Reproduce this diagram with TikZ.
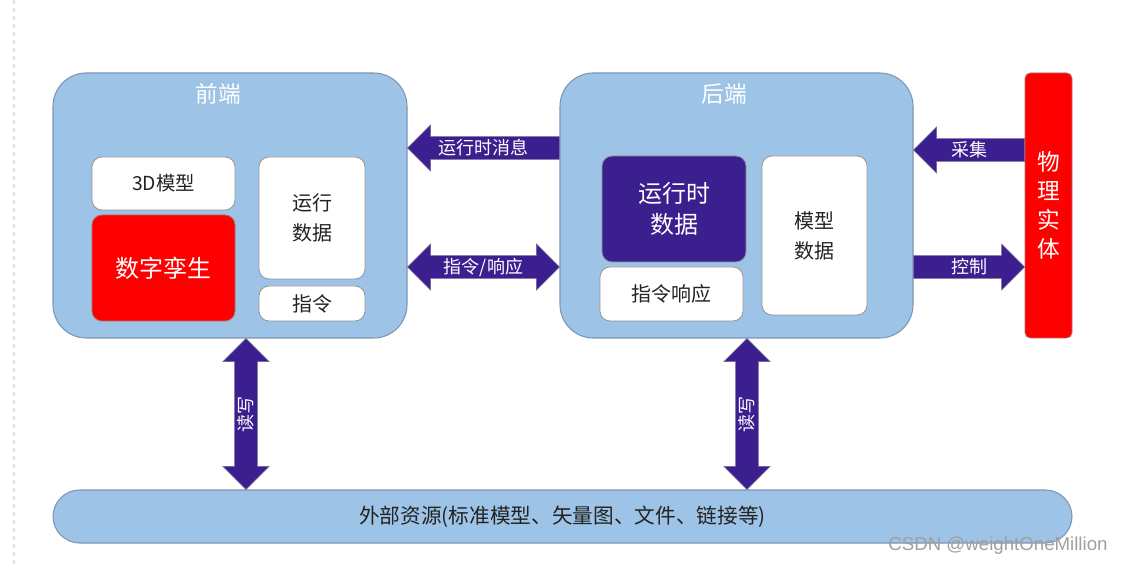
\documentclass[tikz,border=0pt]{standalone}
\usepackage{fontspec}
\setmainfont{Noto Sans CJK SC}
\newfontfamily\wmfont{Liberation Sans}
\usetikzlibrary{calc}
\definecolor{bluebox}{RGB}{157,195,230}
\definecolor{blueedge}{RGB}{125,150,180}
\definecolor{purp}{RGB}{59,31,143}
\definecolor{greyedge}{RGB}{150,150,150}
\definecolor{txt}{RGB}{35,35,35}
\tikzset{
  bigbox/.style={draw=blueedge, fill=bluebox, rounded corners=25pt, line width=0.8pt},
  whitebox/.style={draw=greyedge, fill=white, rounded corners=7.5pt, line width=0.6pt, text=txt, align=center},
  redbox/.style={draw=greyedge!70!red, fill=red, rounded corners=7.5pt, line width=0.6pt, text=white, align=center},
  purpbox/.style={draw=greyedge, fill=purp, rounded corners=7.5pt, line width=0.6pt, text=white, align=center},
  physbox/.style={draw=greyedge!70!red, fill=red, rounded corners=4pt, line width=0.6pt, text=white, align=center},
  bottombox/.style={draw=blueedge, fill=bluebox, rounded corners=20pt, line width=0.8pt, text=txt},
  titletext/.style={text=white, font=\fontsize{17}{20}\selectfont},
  fatarrow/.style={fill=purp, draw=greyedge!60!purp, line width=0.4pt},
  arrlabel/.style={text=white, font=\fontsize{13.5}{16}\selectfont, inner sep=0pt},
}
% box from pixel corners
\newcommand\bx[7][]{%
  \pgfmathsetmacro\cx{(#3+#5)/2}\pgfmathsetmacro\cy{(#4+#6)/2}%
  \pgfmathsetmacro\ww{(#5-#3)*0.75}\pgfmathsetmacro\hh{(#6-#4)*0.75}%
  \node[#1, minimum width=\ww pt, minimum height=\hh pt, inner sep=0pt] (#2) at (\cx,\cy) {#7};%
}
% single fat arrow: #2 tail, #3 tip, #4 label, #1 label options
\newcommand\sarrow[4][]{%
  \coordinate (hb) at ($(#3)!17.25pt!(#2)$);
  \filldraw[fatarrow] (#3) -- ($(hb)!17.25pt!90:(#3)$) -- ($(hb)!8.6pt!90:(#3)$)
    -- ($(#2)!8.6pt!90:(#3)$) -- ($(#2)!8.6pt!-90:(#3)$) -- ($(hb)!8.6pt!-90:(#3)$)
    -- ($(hb)!17.25pt!-90:(#3)$) -- cycle;
  \node[arrlabel,#1] at ($(#2)!0.5!(#3)$) {#4};
}
% double fat arrow between #2 and #3
\newcommand\darrow[4][]{%
  \coordinate (hbb) at ($(#3)!17.25pt!(#2)$);
  \coordinate (hba) at ($(#2)!17.25pt!(#3)$);
  \filldraw[fatarrow] (#3) -- ($(hbb)!17.25pt!90:(#3)$) -- ($(hbb)!8.6pt!90:(#3)$)
    -- ($(hba)!8.6pt!90:(#3)$) -- ($(hba)!17.25pt!90:(#3)$) -- (#2)
    -- ($(hba)!17.25pt!-90:(#3)$) -- ($(hba)!8.6pt!-90:(#3)$)
    -- ($(hbb)!8.6pt!-90:(#3)$) -- ($(hbb)!17.25pt!-90:(#3)$) -- cycle;
  \node[arrlabel,#1] at ($(#2)!0.5!(#3)$) {#4};
}
\begin{document}
\begin{tikzpicture}[x=0.75pt,y=-0.75pt]
\useasboundingbox (0,0) rectangle (1124,566);
\fill[white] (0,0) rectangle (1124,566);
\draw[gray!25, dashed, line width=0.8pt] (14,0) -- (14,566);

% main containers
\bx[bigbox]{front}{53}{73}{407}{338}{}
\bx[bigbox]{back}{560}{73}{913}{338}{}
\bx[physbox, font=\fontsize{17}{21.75}\selectfont]{phys}{1025}{73}{1072}{338}{物\\理\\实\\体}
\bx[bottombox, font=\fontsize{15.5}{18}\selectfont]{ext}{53}{490}{1072}{543}{外部资源(标准模型、矢量图、文件、链接等)}

\node[titletext] (ftitle) at (218,94) {前端};
\node[titletext] (btitle) at (724,94) {后端};

% front inner
\bx[whitebox, font=\fontsize{14.5}{18}\selectfont]{model3d}{92}{157}{235}{210}{3D模型}
\bx[redbox, font=\fontsize{18}{22}\selectfont]{twin}{92}{215}{235}{321}{数字孪生}
\bx[whitebox, font=\fontsize{15}{22.5}\selectfont]{rundata}{259}{157}{365}{279}{运行\\数据}
\bx[whitebox, font=\fontsize{15}{18}\selectfont]{cmd}{259}{286}{365}{321}{指令}

% back inner
\bx[purpbox, font=\fontsize{18}{23}\selectfont]{rtdata}{602}{156}{746}{262}{运行时\\数据}
\bx[whitebox, font=\fontsize{15}{18}\selectfont]{cmdresp}{600}{267}{743}{321}{指令响应}
\bx[whitebox, font=\fontsize{15}{22.5}\selectfont]{mdata}{762}{156}{867}{315}{模型\\数据}

% arrow rows
\coordinate (r1) at (0,148);
\coordinate (r2) at (0,267);
\coordinate (r3) at (0,150);
\coordinate (r4) at (0,267);
\coordinate (c1) at (246,0);
\coordinate (c2) at (747,0);

\coordinate (a1s) at (back.west |- r1);
\coordinate (a1t) at (front.east |- r1);
\sarrow{a1s}{a1t}{运行时消息}

\coordinate (a2s) at (front.east |- r2);
\coordinate (a2t) at (back.west |- r2);
\darrow{a2s}{a2t}{指令/响应}

\coordinate (a3s) at (phys.west |- r3);
\coordinate (a3t) at (back.east |- r3);
\sarrow{a3s}{a3t}{采集}

\coordinate (a4s) at (back.east |- r4);
\coordinate (a4t) at (phys.west |- r4);
\sarrow{a4s}{a4t}{控制}

\coordinate (v1s) at (c1 |- ext.north);
\coordinate (v1t) at (c1 |- front.south);
\darrow[rotate=90]{v1s}{v1t}{读写}

\coordinate (v2s) at (c2 |- ext.north);
\coordinate (v2t) at (c2 |- back.south);
\darrow[rotate=90]{v2s}{v2t}{读写}

\node[text=gray!75, font=\wmfont\fontsize{14}{16}\selectfont, inner sep=0pt] (wm) at (998,546) {CSDN @weightOneMillion};
\end{tikzpicture}
\end{document}
